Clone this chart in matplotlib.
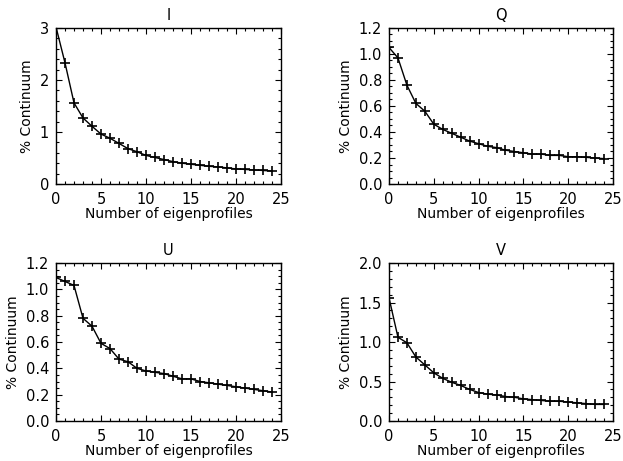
import numpy as np
import matplotlib
matplotlib.use('Agg')
import matplotlib.pyplot as plt
from matplotlib.ticker import MultipleLocator, FormatStrFormatter

n_eigen = list(range(25))

stokes_i = [3.02, 2.33, 1.56, 1.27, 1.11, 0.96, 0.88, 0.78, 0.68, 0.62, 0.55, 0.51, 0.47,
            0.43, 0.40, 0.38, 0.36, 0.34, 0.33, 0.31, 0.29, 0.28, 0.27, 0.26, 0.25]
stokes_q = [1.05, 0.97, 0.76, 0.62, 0.56, 0.46, 0.42, 0.39, 0.36, 0.33, 0.31, 0.29, 0.28,
            0.26, 0.25, 0.24, 0.23, 0.23, 0.22, 0.22, 0.21, 0.21, 0.205, 0.20, 0.195]
stokes_u = [1.09, 1.06, 1.03, 0.78, 0.72, 0.59, 0.55, 0.47, 0.45, 0.40, 0.38, 0.37, 0.36,
            0.34, 0.32, 0.32, 0.30, 0.29, 0.28, 0.27, 0.26, 0.25, 0.24, 0.23, 0.22]
stokes_v = [1.56, 1.06, 0.99, 0.81, 0.71, 0.61, 0.54, 0.49, 0.45, 0.40, 0.36, 0.34, 0.33,
            0.31, 0.30, 0.28, 0.27, 0.26, 0.25, 0.25, 0.24, 0.23, 0.22, 0.21, 0.21]

titles = ['I', 'Q', 'U', 'V']
series = [stokes_i, stokes_q, stokes_u, stokes_v]
ylims = [(0, 3), (0, 1.2), (0, 1.2), (0, 2.0)]
ymajor = [1, 0.2, 0.2, 0.5]
yminor = [0.2, 0.05, 0.05, 0.1]
yfmt = ['%d', '%.1f', '%.1f', '%.1f']

# axes boxes in pixels (left, top, right, bottom) on a 623x461 canvas
W, H = 623, 461
boxes = [(56, 28, 281, 184), (389, 28, 613, 184),
         (56, 263, 281, 421), (389, 263, 613, 421)]

plt.rcParams['font.family'] = 'DejaVu Sans'
fig = plt.figure(figsize=(6.23, 4.61), dpi=100)

for k in range(4):
    l, t, r, b = boxes[k]
    ax = fig.add_axes([l / W, 1 - b / H, (r - l) / W, (b - t) / H])
    ax.plot(n_eigen, series[k], color='black', lw=1.0, marker='+', ms=7, mew=1.2)
    ax.set_xlim(0, 25)
    ax.set_ylim(*ylims[k])
    ax.xaxis.set_major_locator(MultipleLocator(5))
    ax.xaxis.set_minor_locator(MultipleLocator(1))
    ax.yaxis.set_major_locator(MultipleLocator(ymajor[k]))
    ax.yaxis.set_minor_locator(MultipleLocator(yminor[k]))
    ax.yaxis.set_major_formatter(FormatStrFormatter(yfmt[k]))
    ax.tick_params(which='both', direction='in', top=True, right=True, labelsize=10.5, width=0.8)
    ax.tick_params(which='major', length=4.5)
    ax.tick_params(which='minor', length=2.5)
    ax.tick_params(axis='x', pad=6)
    ax.tick_params(axis='y', pad=5)
    for s in ax.spines.values():
        s.set_linewidth(1.0)
    ax.set_title(titles[k], fontsize=10.5, pad=6)
    ax.set_xlabel('Number of eigenprofiles', fontsize=10, labelpad=-0.5)
    ax.set_ylabel('% Continuum', fontsize=10, labelpad=4)

plt.savefig('out.png', dpi=100)
